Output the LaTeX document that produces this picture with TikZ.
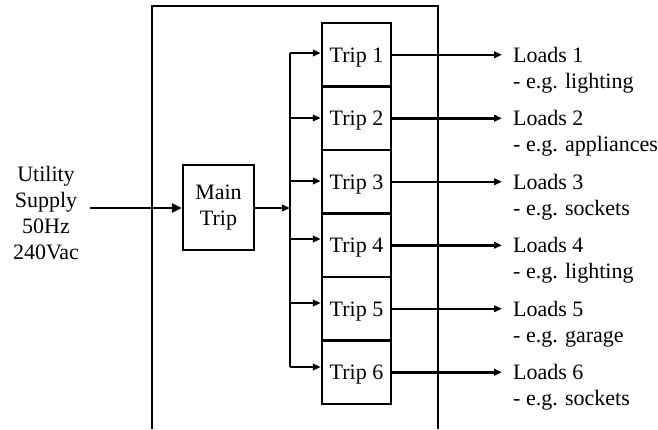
\documentclass[tikz,border=0pt]{standalone}
\usepackage{fontspec}
\setmainfont{Liberation Serif}
\usetikzlibrary{arrows.meta}
\begin{document}
\begin{tikzpicture}[x=1pt,y=-1pt,
  lbl/.style={font=\fontsize{22}{26}\selectfont,inner sep=0pt},
  box/.style={lbl,draw,line width=2.4pt,align=center},
  wire/.style={line width=2.5pt},
  feed/.style={wire,-{Triangle[length=8pt,width=6.5pt]}},
  bigfeed/.style={wire,-{Triangle[length=10pt,width=9pt]}}]
\useasboundingbox (0,0) rectangle (658,429);
% distribution board enclosure, open at the bottom
\draw[wire] (152,429) -- (152,6) -- (438,6) -- (438,429);
% main breaker
\node[box,minimum width=71pt,minimum height=85pt] (main) at (218.5,207.5) {\rule{0pt}{14pt}Main\\Trip};
% branch breakers
\foreach \i/\y in {1/54.75,2/118.25,3/181.75,4/245.25,5/308.75,6/372.25}
  \node[box,minimum width=69pt,minimum height=63.5pt,text depth=0pt] (t\i) at (356.5,\y) {Trip \i};
% supply
\node[lbl,align=center] (util) at (46,213.5) {Utility\\Supply\\50Hz\\240Vac};
\coordinate (in) at (90,208);
\draw[bigfeed] (in) -- (main.west |- in);
% busbar
\coordinate (bus) at (290,208);
\draw[feed] (main.east |- bus) -- (bus);
\foreach \i/\y in {1/53,2/118,3/181,4/239,5/303,6/367}
  \coordinate (b\i) at (290,\y);
\draw[wire] (b1) -- (b6);
\foreach \i in {1,...,6}
  \draw[feed] (b\i) -- (b\i -| t\i.west);
% outgoing circuits with their load labels
\foreach \i/\d in {1/lighting,2/appliances,3/sockets,4/lighting,5/garage,6/sockets}{
  \coordinate (o\i) at (502,0 |- t\i.east);
  \draw[feed] (t\i.east) -- (o\i);
  \node[lbl,anchor=base west] (l\i) at ([xshift=11pt,yshift=-7.5pt]o\i) {Loads \i};
  \node[lbl,anchor=base west] (d\i) at ([yshift=-26pt]l\i.base west) {- e.g. \d};
}
\end{tikzpicture}
\end{document}
